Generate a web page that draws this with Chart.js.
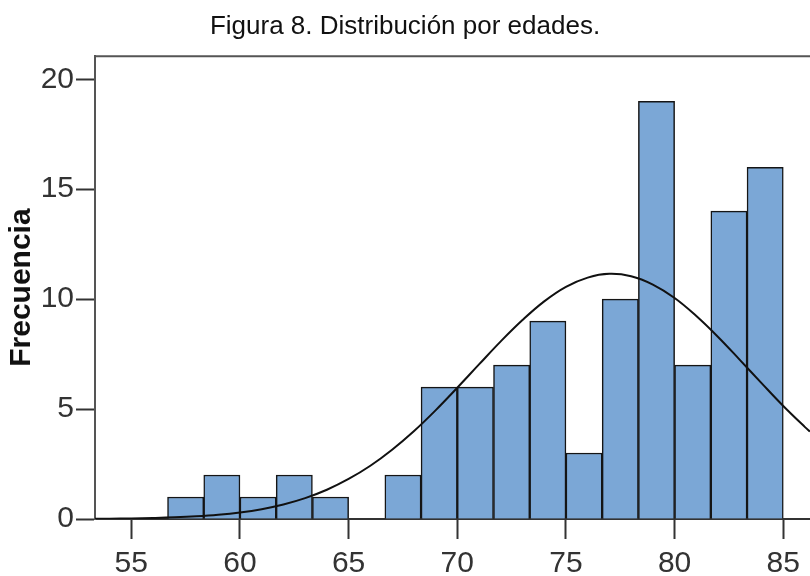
<!DOCTYPE html>
<html>
<head>
<meta charset="utf-8">
<script src="https://cdn.jsdelivr.net/npm/chart.js@4.4.1/dist/chart.umd.min.js"></script>
<style>
  html, body { margin: 0; padding: 0; background: #fff; overflow: hidden; }
  #wrap { width: 810px; height: 576px; }
</style>
</head>
<body>
<div id="wrap"><canvas id="c" width="810" height="576"></canvas></div>
<script>
// ---- data ----
const titleText = 'Figura 8. Distribución por edades.';
const yTitle = 'Frecuencia';
const binStart = 56.667;          // left edge of first bin (years)
const binWidth = 5 / 3;           // bin width (years)
const counts = [1, 2, 1, 2, 1, 0, 2, 6, 6, 7, 9, 3, 10, 19, 7, 14, 16];
const curveX = [53.33, 54, 55, 56, 57, 58, 59, 60, 61, 62, 63, 64, 65, 66, 67, 68, 69, 70,
                71, 72, 73, 74, 75, 76, 77, 78, 79, 80, 81, 82, 83, 84, 85, 86, 86.23];
const curveY = [0.01, 0.015, 0.026, 0.045, 0.074, 0.121, 0.192, 0.297, 0.448, 0.66, 0.948, 1.33, 1.82, 2.42, 3.15, 3.99, 4.94, 5.97,
                7.03, 8.08, 9.05, 9.9, 10.56, 10.98, 11.15, 11.04, 10.66, 10.05, 9.23, 8.28, 7.24, 6.18, 5.14, 4.18, 3.98];
const xTicks = [55, 60, 65, 70, 75, 80, 85];
const yTicks = [0, 5, 10, 15, 20];

const barData = counts.map((v, i) => ({ x: binStart + binWidth * (i + 0.5), y: v }));
const lineData = curveX.map((x, i) => ({ x: x, y: curveY[i] }));

const topBorder = {
  id: 'topBorder',
  afterDraw(chart) {
    const { ctx, chartArea } = chart;
    ctx.save();
    ctx.strokeStyle = '#555';
    ctx.lineWidth = 2;
    ctx.beginPath();
    ctx.moveTo(chartArea.left - 1, chartArea.top);
    ctx.lineTo(chartArea.right, chartArea.top);
    ctx.stroke();
    ctx.restore();
  }
};

new Chart(document.getElementById('c'), {
  type: 'bar',
  data: {
    datasets: [
      {
        type: 'line',
        data: lineData,
        borderColor: '#111',
        borderWidth: 2,
        pointRadius: 0,
        tension: 0.4,
        fill: false,
        order: 0
      },
      {
        type: 'bar',
        data: barData,
        backgroundColor: 'rgb(123,167,214)',
        borderColor: '#151515',
        borderWidth: 1.5,
        barPercentage: 1.0,
        categoryPercentage: 1.0,
        order: 1
      }
    ]
  },
  plugins: [topBorder],
  options: {
    responsive: false,
    animation: false,
    layout: { padding: { left: 0, right: 0, top: 0, bottom: 0 } },
    plugins: {
      legend: { display: false },
      tooltip: { enabled: false },
      title: {
        display: true,
        text: titleText,
        color: '#111',
        font: { family: 'Liberation Sans, Arial, sans-serif', size: 26, weight: 'normal' },
        padding: { top: 11, bottom: 14 }
      }
    },
    scales: {
      x: {
        type: 'linear',
        min: 53.33,
        max: 86.23,
        offset: false,
        afterFit(scale) { scale.height = 57; },
        afterBuildTicks(scale) { scale.ticks = xTicks.map(v => ({ value: v })); },
        grid: { display: true, offset: false, drawOnChartArea: false, drawTicks: true, tickLength: 20, tickWidth: 2, tickColor: '#333' },
        border: { display: true, color: '#333', width: 2 },
        ticks: {
          color: '#333',
          padding: 7,
          maxRotation: 0,
          autoSkip: false,
          font: { family: 'Liberation Sans, Arial, sans-serif', size: 30 }
        }
      },
      y: {
        type: 'linear',
        min: 0,
        max: 21.05,
        afterFit(scale) { scale.width = 95; },
        afterBuildTicks(scale) { scale.ticks = yTicks.map(v => ({ value: v })); },
        grid: { display: true, drawOnChartArea: false, drawTicks: true, tickLength: 19, tickWidth: 2, tickColor: '#333' },
        border: { display: true, color: '#555', width: 2 },
        ticks: {
          color: '#333',
          padding: 2,
          font: { family: 'Liberation Sans, Arial, sans-serif', size: 30 }
        },
        title: {
          display: true,
          text: yTitle,
          color: '#111',
          font: { family: 'Liberation Sans, Arial, sans-serif', size: 30, weight: 'bold' },
          padding: { top: 4, bottom: 0 }
        }
      }
    }
  }
});
</script>
</body>
</html>
